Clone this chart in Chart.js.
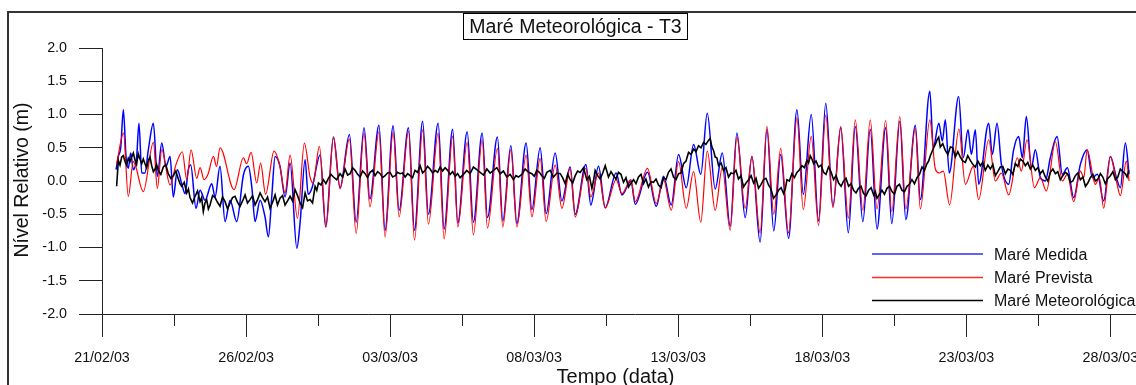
<!DOCTYPE html>
<html>
<head>
<meta charset="utf-8">
<script src="https://cdn.jsdelivr.net/npm/chart.js@4.4.1/dist/chart.umd.min.js"></script>
<style>
  html, body { margin: 0; padding: 0; background: #fff; overflow: hidden; }
  #wrap { position: relative; width: 1180px; height: 385px; }
</style>
</head>
<body>
<div id="wrap"><canvas id="c" width="1180" height="385"></canvas></div>
<script>
// ---------- DATA (hours since 21/02/03 00:00, level in metres) ----------
const chartTitle = 'Maré Meteorológica - T3';
const xTitle = 'Tempo (data)';
const yTitle = 'Nível Relativo (m)';
const seriesNames = ['Maré Medida', 'Maré Prevista', 'Maré Meteorológica'];
const tickLabels = ['21/02/03', '26/02/03', '03/03/03', '08/03/03', '13/03/03', '18/03/03', '23/03/03', '28/03/03'];
const yTicks = [-2.0, -1.5, -1.0, -0.5, 0.0, 0.5, 1.0, 1.5, 2.0];

// Maré Prevista (predicted tide) - turning points
const hoursPred = [12.2,17.9,21.9,26.1,34.4,42.8,46.1,49.8,56.7,61.7,66.9,70.6,74.2,78.9,81.7,85,88.3,92.8,95.4,98.3,
  110,117.8,120.4,124.2,128.9,132.1,136.3,143.3,147.9,152.5,156.7,162.8,168.6,173.3,175.8,181.1,186.7,192.8,198.3,206.1,
  211.7,218.3,223.2,230.7,235.8,242.5,247.5,255.3,260.3,267.1,271.9,280,285,292.1,296.4,304.2,309.4,316.7,321.1,329.4,
  333.9,340.6,345.6,353.3,358.1,365,370,377.5,383.1,390,394.2,403.1,407.2,413.6,419.2,428.3,433.1,440.6,444.2,454.4,
  461.7,467.8,474.2,480.3,486.7,492.8,498.8,504.2,510.8,516.7,523.3,528.9,535.8,541.4,548.2,553.9,559.6,565.4,571.9,578.9,
  584.2,590.8,596.9,602.9,608.9,615.4,621.7,627.5,633.8,640,645.6,652.8,657.9,664.6,669.6,677.5,681.7,689.6,694.2,697.5,
  700.8,706.1,713.8,719.2,725.8,730.3,738.6,744.2,749.2,755.3,762.5,765.8,770.6,776.7,781.7,786.7,794.2,800,804.2,809.4,
  815,817.9,820.6,827.5,830.8,834.4,840,845,848.3,853.3,855.6];
const levelPred = [0.25,0.72,-0.23,0.29,-0.16,0.58,-0.11,0.47,-0.06,0.25,0.44,0.02,0.47,0.04,0.2,0.02,0.1,0.37,0.22,0.5,
  -0.13,0.35,0.26,0.43,-0.03,0.27,-0.2,0.45,0.25,-0.18,0.39,-0.56,0.57,0.06,-0.03,0.52,-0.69,0.66,-0.12,0.63,
  -0.79,0.72,-0.39,0.74,-0.84,0.73,-0.54,0.75,-0.89,0.77,-0.65,0.72,-0.87,0.67,-0.69,0.58,-0.81,0.62,-0.71,0.49,
  -0.69,0.47,-0.69,0.39,-0.54,0.34,-0.61,0.24,-0.41,0.19,-0.54,0.19,-0.24,0.12,-0.41,0.02,-0.19,0.02,-0.31,0.19,
  -0.34,0.02,-0.44,0.29,-0.41,0.14,-0.62,0.45,-0.44,0.2,-0.74,0.66,-0.41,0.37,-0.78,0.82,-0.5,0.49,-0.78,0.95,
  -0.43,0.67,-0.67,0.99,-0.4,0.82,-0.56,0.92,-0.44,0.92,-0.42,0.91,-0.46,0.97,-0.42,0.79,-0.42,0.92,0.18,0.12,
  0.15,-0.36,0.78,-0.05,0.22,-0.28,0.62,0.0,0.12,-0.21,0.35,0.15,0.62,-0.1,0.05,-0.15,0.59,0.0,0.1,-0.31,
  0.15,0.05,0.47,-0.05,0.05,-0.41,0.37,0.0,-0.22,0.3,0.0];

// Maré Medida (measured tide) - turning points
const hoursMeas = [11.7,13.6,15.6,17.8,20,21.9,23.9,26.1,28.9,30.8,33.1,35.8,38.6,42.8,46.1,49.8,53.3,56.7,59.4,62.8,
  66.4,69.2,71.9,73.9,78.3,81.7,85.8,91.4,94.2,98.3,102.5,106.7,112.2,117.8,121.9,124.8,127.5,131.7,135.8,138.6,
  141.4,144.2,148.3,152.5,156.7,162.3,165,169.2,171.7,175,181.7,186.3,192.8,198.3,206.1,211.7,218.3,223.2,230.7,235.8,
  242.5,247.5,255.3,260.3,267.1,271.9,280,285,292.1,296.4,304.2,309.4,316.7,321.1,329.4,333.9,340.6,345.6,353.3,358.1,
  365,370,377.5,383.1,390,394.2,403.1,407.2,413.6,419.2,428.3,433.1,440.6,444.2,454.4,461.7,467.8,474.2,480.3,486.7,
  492.8,498.8,504.2,510.8,516.7,523.3,528.9,535.8,541.4,548.2,553.9,559.6,565.4,571.9,578.9,584.2,590.8,596.9,602.9,608.9,
  615.4,621.7,627.5,633.8,640,645.6,652.8,657.9,664.6,669.6,677.5,681.7,689.6,692.5,697.1,700,702.5,705.8,713.6,717.5,
  721.4,724.2,727.5,730.3,738.6,741.7,745.6,749.2,755.3,759.2,763.6,766.7,770,774.2,777.5,781.7,785.8,790,795.6,800,
  804.2,809.4,815,820.6,825,829.2,834.4,840,845,848.3,852.5,855.6];
const levelMeas = [0.17,0.37,0.5,1.07,0.37,0.19,0.42,0.17,0.37,0.87,0.12,0.12,0.47,0.87,0.07,0.57,0.22,0.37,-0.24,0.17,
  -0.04,-0.19,0.17,0.24,-0.41,-0.14,-0.29,-0.04,-0.24,0.22,-0.61,-0.29,-0.61,0.09,0.22,-0.09,-0.61,-0.29,-0.54,-0.84,
  -0.24,0.37,0.22,-0.24,0.27,-1.01,-0.63,0.32,-0.2,-0.1,0.39,-0.69,0.66,-0.1,0.7,-0.62,0.8,-0.27,0.84,-0.74,
  0.83,-0.44,0.8,-0.74,0.9,-0.5,0.87,-0.72,0.78,-0.63,0.74,-0.62,0.72,-0.55,0.66,-0.6,0.53,-0.64,0.57,-0.43,
  0.5,-0.49,0.42,-0.3,0.21,-0.5,0.25,-0.36,0.22,-0.4,0.12,-0.21,0.0,-0.35,0.13,-0.38,0.07,-0.36,0.4,-0.1,
  0.55,0.1,1.02,-0.12,0.42,-0.68,0.72,-0.55,0.37,-0.92,0.78,-0.75,0.4,-0.86,1.07,-0.2,1.0,-0.6,1.17,-0.38,
  0.8,-0.78,0.82,-0.61,0.78,-0.72,0.8,-0.64,0.9,-0.58,0.84,-0.28,1.35,0.5,0.87,0.6,0.92,0.12,1.27,0.35,
  0.77,0.4,0.77,-0.05,0.87,0.4,0.87,0.25,-0.05,0.45,0.67,0.35,0.97,0.2,0.47,0.05,0.0,0.35,0.67,0.1,
  0.2,-0.25,0.25,0.47,0.05,0.1,-0.3,0.37,0.05,-0.1,0.57,0.1];

// Maré Meteorológica (measured minus predicted)
const hoursMet = [
  12.2,13.6,15.0,16.4,17.8,19.2,20.5,21.9,23.3,24.7,
  26.1,27.5,28.8,30.2,31.6,33.1,34.4,35.8,37.2,38.6,
  40.0,41.4,42.8,44.2,45.5,46.9,49.0,51.1,53.1,55.2,
  57.3,59.4,61.5,63.6,65.0,66.4,68.5,70.6,72.0,73.3,
  75.4,77.5,79.6,81.7,83.0,84.4,85.8,87.2,88.6,90,
  92.1,94.2,96.2,98.3,100.4,102.5,104.6,106.7,108.7,110.8,
  112.9,115,117.1,119.2,121.2,123.3,125.4,127.5,129.6,131.7,
  133.7,135.8,137.9,140,142.1,144.2,146.2,148.3,150.4,152.5,
  154.6,156.7,158.7,160.8,162.9,165,167.1,169.2,171.2,173.3,
  175.4,177.5,178.9,180.3,182.4,184.4,186.5,188.6,190.7,192.8,
  195.5,198.3,200.4,202.5,204.6,206.7,208.7,210.8,212.9,215,
  217.1,219.2,221.2,223.3,225.4,227.5,229.6,231.7,233.7,235.8,
  237.9,240,242.1,244.2,246.2,248.3,250.4,252.5,254.6,256.7,
  258.7,260.8,262.9,265,267.1,269.2,271.2,273.3,275.4,277.5,
  279.6,281.7,283.7,285.8,287.9,290,292.1,294.2,296.2,298.3,
  301.1,303.9,306.6,309.4,312.2,315,317.8,320.6,323.3,326.1,
  328.9,331.7,334.4,337.2,340,342.8,344.8,346.9,349.7,352.5,
  355.3,358.1,360.1,362.2,364.3,366.4,368.5,370.6,373.3,376.1,
  378.9,381.7,383.7,385.8,387.9,390,392.1,394.2,396.2,398.3,
  401.1,403.9,406,408.1,409.4,410.8,412.9,415,417.1,419.2,
  420.5,421.9,424,426.1,428.1,430.2,432.3,434.4,436.5,438.6,
  440.7,442.8,444.8,446.9,449,451.1,453.1,455.2,457.3,459.4,
  461.5,463.6,465.7,467.8,469.8,471.9,474,476.1,478.2,480.3,
  482.3,484.4,486.5,488.6,490.7,492.8,494.8,496.9,499,501.1,
  503.1,505.2,506.6,508.1,509.4,510.8,512.2,513.6,515.7,517.8,
  519.8,521.9,524,526.1,528.1,530.2,532.3,534.4,536.5,538.6,
  540.7,542.8,544.8,546.9,549,551.1,553.1,555.2,557.3,559.4,
  561.5,563.6,565.7,567.8,569.2,570.6,572.6,574.7,576.8,578.9,
  581,583.1,585.1,587.2,588.6,590,591.4,592.8,594.8,596.9,
  599,601.1,603.1,605.2,607.3,609.4,611.5,613.6,615.7,617.8,
  619.8,621.9,624,626.1,628.1,630.2,632.3,634.4,636.5,638.6,
  640.7,642.8,644.2,645.6,647.6,649.7,651.8,653.9,656,658.1,
  660.1,662.2,664.3,666.4,668.5,670.6,672.6,674.7,676.8,678.9,
  681,683.1,685.1,687.2,688.6,690,691.4,692.8,694.2,695.6,
  697,698.3,700.4,702.5,704.6,706.7,708.7,710.8,712.9,715,
  717.1,719.2,721.2,723.3,725.4,727.5,729.6,731.7,733.7,735.8,
  737.9,740,742.1,744.2,746.2,748.3,750.4,752.5,754.6,756.7,
  758.7,760.8,762.9,765,767.1,769.2,771.2,773.3,775.4,777.5,
  779.6,781.7,783.7,785.8,787.9,790,792.1,794.2,796.2,798.3,
  800.4,802.5,804.6,806.7,808.7,810.8,812.9,815,817.1,819.2,
  821.2,823.3,825.4,827.5,829.6,831.7,833.7,835.8,837.9,840,
  842.1,844.2,846.2,848.3,850.4,852.5,853.9,855.3];
const levelMet = [
  -0.08,0.31,0.24,0.36,0.38,0.29,0.24,0.34,0.29,0.36,
  0.42,0.31,0.25,0.41,0.33,0.26,0.33,0.26,0.2,0.31,
  0.36,0.23,0.14,0.18,0.25,0.16,0.1,0.21,0.25,0.11,
  0.04,0.08,0.15,0.03,-0.04,-0.08,-0.02,-0.18,-0.12,-0.25,
  -0.33,-0.23,-0.15,-0.31,-0.25,-0.46,-0.33,-0.28,-0.42,-0.36,
  -0.22,-0.25,-0.32,-0.38,-0.24,-0.31,-0.42,-0.33,-0.25,-0.23,
  -0.32,-0.38,-0.3,-0.21,-0.33,-0.28,-0.22,-0.36,-0.28,-0.18,
  -0.25,-0.31,-0.24,-0.41,-0.32,-0.21,-0.36,-0.26,-0.22,-0.36,
  -0.3,-0.23,-0.3,-0.13,-0.22,-0.33,-0.4,-0.18,-0.3,-0.28,
  -0.33,-0.08,-0.14,-0.03,-0.06,0.02,-0.04,0.04,0.1,0.06,
  0.02,0.11,0.06,0.18,0.09,0.11,0.2,0.16,0.1,0.06,
  0.15,0.11,0.05,0.13,0.16,0.08,0.14,0.11,0.05,0.08,
  0.12,0.13,0.06,0.08,0.13,0.11,0.12,0.06,0.11,0.08,
  0.05,0.16,0.13,0.23,0.12,0.16,0.22,0.18,0.12,0.16,
  0.13,0.21,0.15,0.2,0.16,0.1,0.14,0.07,0.11,0.05,
  0.1,0.16,0.11,0.21,0.17,0.13,0.09,0.18,0.12,0.16,
  0.2,0.11,0.15,0.06,0.1,0.02,0.08,0.06,0.1,0.18,
  0.13,0.11,0.07,0.16,0.13,0.08,0.04,0.13,0.16,0.06,
  0.12,0.11,0.05,-0.04,0.1,0.02,-0.03,0.08,0.15,0.13,
  0.2,0.02,0.07,-0.11,0.0,0.16,0.08,0.03,0.12,0.23,
  0.15,0.06,0.14,0.08,0.03,0.13,0.1,-0.02,0.05,-0.09,
  -0.03,0.02,-0.04,0.06,0.1,-0.04,0.03,-0.09,-0.01,-0.02,
  0.03,-0.06,-0.1,0.05,0.02,0.13,0.18,0.06,0.02,0.11,
  0.12,0.26,0.3,0.43,0.4,0.48,0.44,0.53,0.5,0.58,
  0.55,0.61,0.64,0.51,0.46,0.36,0.35,0.23,0.27,0.16,
  0.2,0.06,0.12,0.11,0.16,0.03,0.08,-0.09,-0.03,0.02,
  0.08,-0.03,0.04,-0.11,-0.05,0.02,0.04,-0.06,-0.12,-0.26,
  -0.21,-0.14,-0.1,-0.19,-0.12,0.02,0.0,0.11,0.05,0.13,
  0.17,0.23,0.2,0.31,0.27,0.38,0.33,0.26,0.3,0.21,
  0.24,0.13,0.1,0.21,0.14,0.02,0.08,-0.03,-0.08,0.0,
  0.04,-0.08,-0.04,-0.14,-0.18,-0.11,-0.08,-0.19,-0.22,-0.14,
  -0.1,-0.21,-0.16,-0.26,-0.2,-0.14,-0.2,-0.11,-0.08,-0.16,
  -0.2,-0.08,-0.05,-0.14,-0.16,-0.08,-0.05,0.02,-0.04,0.05,
  0.1,0.21,0.16,0.26,0.3,0.38,0.44,0.5,0.55,0.62,
  0.66,0.51,0.56,0.46,0.4,0.51,0.5,0.36,0.44,0.36,
  0.3,0.28,0.38,0.31,0.25,0.21,0.3,0.23,0.28,0.16,
  0.24,0.18,0.25,0.08,0.14,0.21,0.22,0.11,0.18,0.16,
  0.1,0.26,0.22,0.33,0.3,0.23,0.28,0.18,0.24,0.16,
  0.2,0.11,0.16,0.06,0.0,0.13,0.18,0.11,0.14,0.02,
  0.08,0.13,0.1,-0.02,0.0,0.08,0.12,0.02,0.06,-0.08,
  -0.03,0.05,0.1,0.0,0.03,0.11,0.06,-0.04,0.04,0.08,
  0.14,0.02,0.06,0.18,0.14,0.11,0.06,0.16];

// ---------- CHART ----------
const FONT = "'Liberation Sans', Arial, Helvetica, sans-serif";
const HOURS_PER_MAJOR = 120;
const xMajor = tickLabels.map((_, i) => i * HOURS_PER_MAJOR);
const toXY = (xs, ys) => xs.map((x, i) => ({ x: x, y: ys[i] }));

const colors = ['#0000ff', '#ff0000', '#000000'];
const legendColors = ['#6262ff', '#ff2a2a', '#000000'];

const decorPlugin = {
  id: 'decor',
  beforeDraw(chart) {
    const ctx = chart.ctx;
    ctx.save();
    ctx.strokeStyle = '#333';
    ctx.lineWidth = 2;
    ctx.beginPath();
    ctx.moveTo(8, 400);
    ctx.lineTo(8, 12);
    ctx.lineTo(1200, 12);
    ctx.stroke();
    ctx.restore();
  },
  afterDraw(chart) {
    const ctx = chart.ctx;
    ctx.save();
    // title box
    ctx.fillStyle = '#fff';
    ctx.fillRect(463, 13, 224, 26);
    ctx.strokeStyle = '#000';
    ctx.lineWidth = 1;
    ctx.strokeRect(463.5, 13.5, 224, 26);
    ctx.fillStyle = '#111';
    ctx.font = '19.5px ' + FONT;
    ctx.textAlign = 'center';
    ctx.textBaseline = 'alphabetic';
    ctx.fillText(chartTitle, 575.5, 32.5);
    // x title
    ctx.font = '20px ' + FONT;
    ctx.fillText(xTitle, 615.5, 382.5);
    // y title
    ctx.save();
    ctx.translate(27.5, 180);
    ctx.rotate(-Math.PI / 2);
    ctx.font = '19.5px ' + FONT;
    ctx.fillText(yTitle, 0, 0);
    ctx.restore();
    // legend
    const rows = [254, 277.5, 300.5];
    const widths = [2, 1.3, 1.3];
    ctx.font = '16px ' + FONT;
    ctx.textAlign = 'left';
    for (let i = 0; i < rows.length; i++) {
      ctx.beginPath();
      ctx.strokeStyle = legendColors[i];
      ctx.lineWidth = widths[i];
      ctx.moveTo(872, rows[i]);
      ctx.lineTo(983, rows[i]);
      ctx.stroke();
      ctx.fillStyle = '#111';
      ctx.fillText(seriesNames[i], 994, rows[i] + 5.5);
    }
    ctx.restore();
  }
};

new Chart(document.getElementById('c'), {
  type: 'line',
  data: {
    datasets: [
      { label: seriesNames[0], data: toXY(hoursMeas, levelMeas), borderColor: colors[0], borderWidth: 1.5,
        pointRadius: 0, cubicInterpolationMode: 'monotone', order: 3 },
      { label: seriesNames[1], data: toXY(hoursPred, levelPred), borderColor: colors[1], borderWidth: 1.2,
        pointRadius: 0, cubicInterpolationMode: 'monotone', order: 2 },
      { label: seriesNames[2], data: toXY(hoursMet, levelMet), borderColor: colors[2], borderWidth: 1.6,
        pointRadius: 0, tension: 0, order: 1 }
    ]
  },
  options: {
    responsive: false,
    animation: false,
    devicePixelRatio: 1,
    layout: { padding: { top: 48, left: 0, right: 12, bottom: 0 } },
    plugins: { legend: { display: false }, tooltip: { enabled: false }, title: { display: false } },
    scales: {
      x: {
        type: 'linear',
        min: 0,
        max: 888,
        afterBuildTicks(scale) {
          const t = [];
          for (let h = 0; h <= xMajor[xMajor.length - 1]; h += HOURS_PER_MAJOR / 2) t.push({ value: h });
          scale.ticks = t;
        },
        afterFit(scale) { scale.height = 71; },
        ticks: {
          autoSkip: false,
          maxRotation: 0,
          padding: 12,
          color: '#111',
          font: { family: FONT, size: 14.3 },
          callback(value, index) {
            return index % 2 === 0 ? tickLabels[index / 2] : '';
          }
        },
        grid: {
          drawOnChartArea: false,
          drawTicks: true,
          tickLength: 23,
          tickColor: '#222',
          tickWidth: 1,
          tickBorderDash: (ctx) => (ctx.index % 2 === 1 ? [11, 100] : [])
        },
        border: { display: true, color: '#222', width: 1 }
      },
      y: {
        min: -2,
        max: 2,
        afterBuildTicks(scale) { scale.ticks = yTicks.map(v => ({ value: v })); },
        afterFit(scale) { scale.width = 102; },
        ticks: {
          padding: 12,
          color: '#111',
          font: { family: FONT, size: 14.3 },
          callback(value) { return Number(value).toFixed(1); }
        },
        grid: { drawOnChartArea: false, tickLength: 23, tickColor: '#222', tickWidth: 1 },
        border: { display: true, color: '#222', width: 1 }
      }
    }
  },
  plugins: [decorPlugin]
});
</script>
</body>
</html>
